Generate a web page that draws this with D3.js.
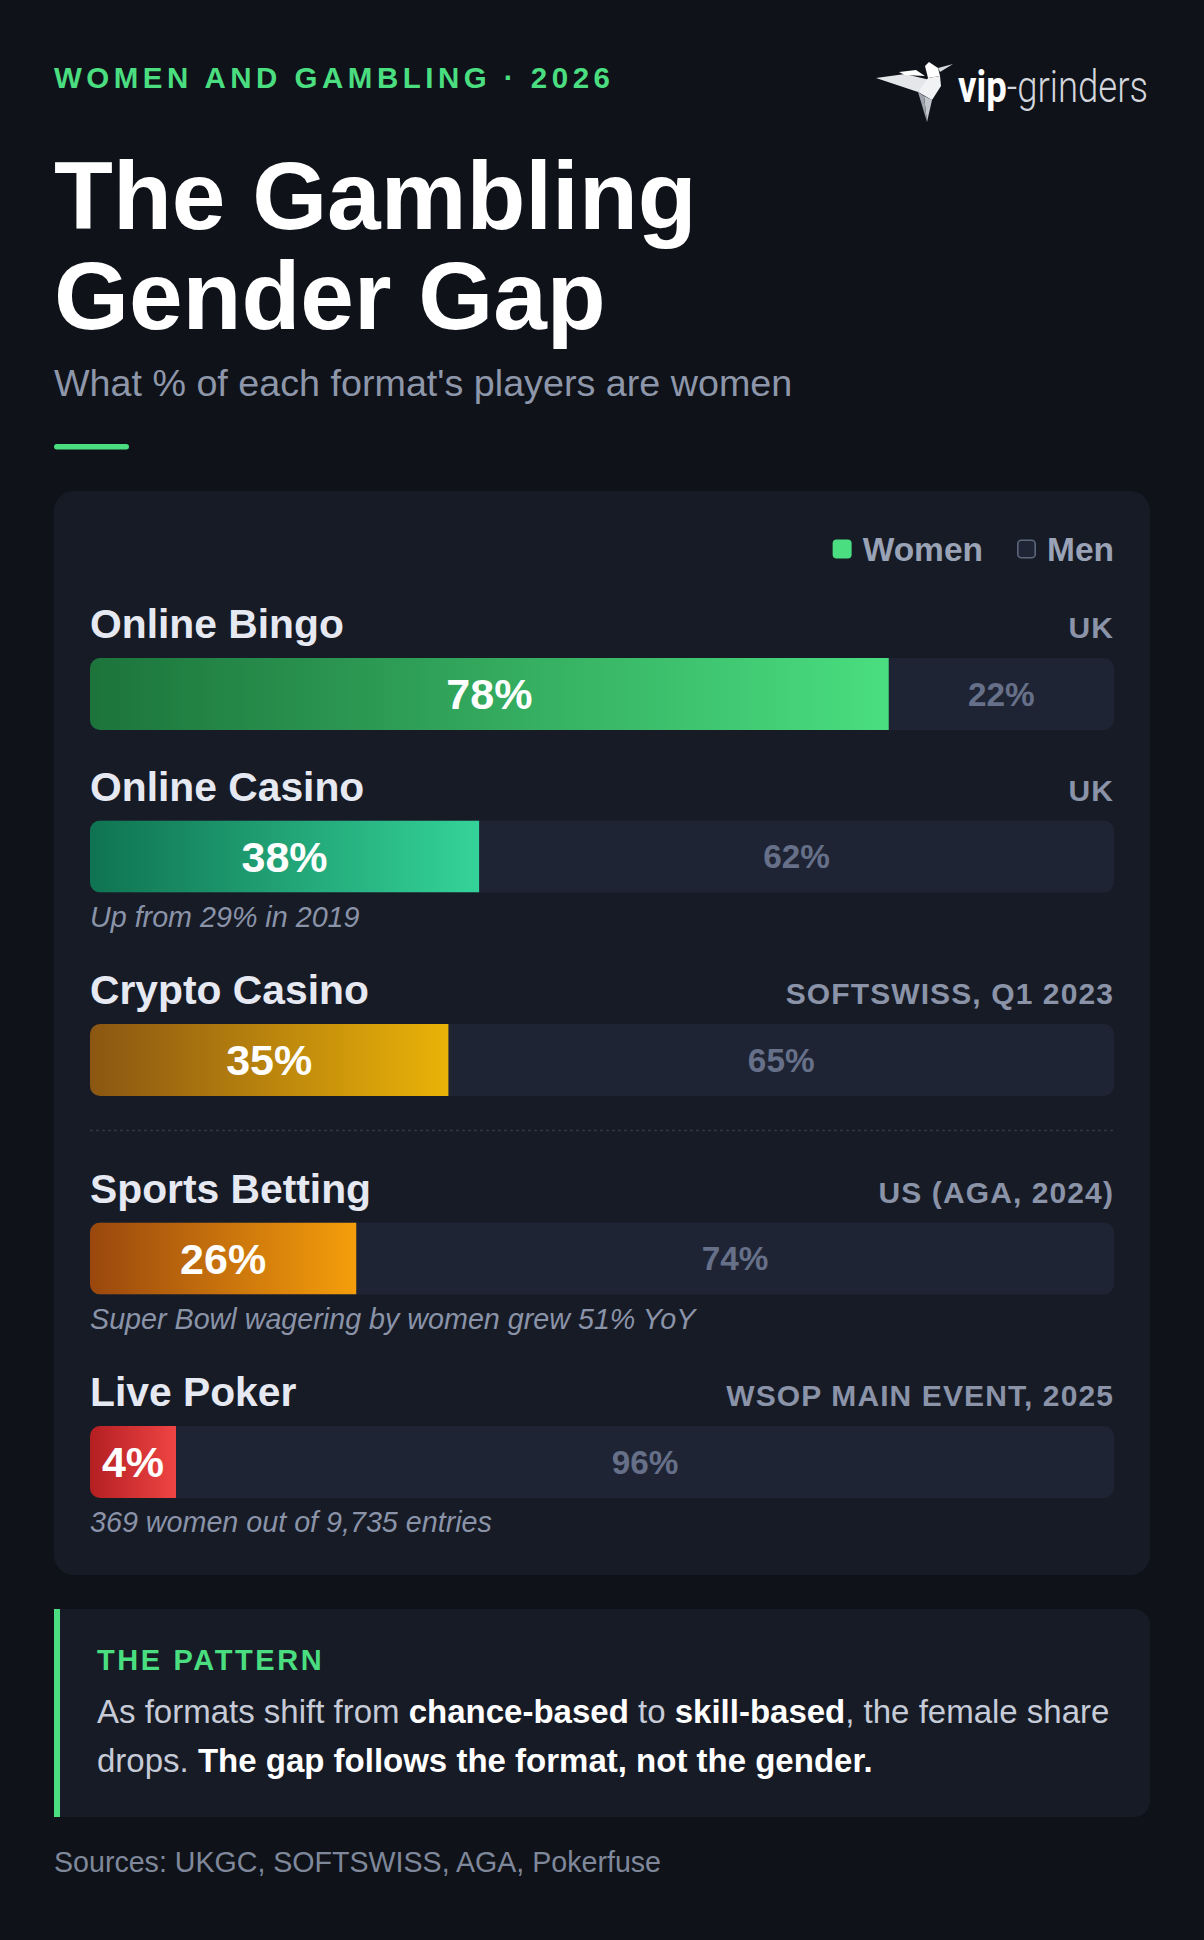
<!DOCTYPE html>
<html><head><meta charset="utf-8">
<script src="https://cdn.jsdelivr.net/npm/d3@7"></script>
<style>html,body{margin:0;padding:0;background:#0f1219;} svg{display:block}</style>
</head><body><div id="chart"></div>
<script>
// ---------- data ----------
const categories = ["Online Bingo", "Online Casino", "Crypto Casino", "Sports Betting", "Live Poker"];
const womenPct = [78, 38, 35, 26, 4];
const menPct = [22, 62, 65, 74, 96];
const sourceTags = ["UK", "UK", "SOFTSWISS, Q1 2023", "US (AGA, 2024)", "WSOP MAIN EVENT, 2025"];
const notes = ["", "Up from 29% in 2019", "", "Super Bowl wagering by women grew 51% YoY", "369 women out of 9,735 entries"];
const legendLabels = ["Women", "Men"];
const dividerAfter = "Crypto Casino";
const eyebrow = "WOMEN AND GAMBLING · 2026";
const titleLines = ["The Gambling", "Gender Gap"];
const subtitle = "What % of each format's players are women";
const patternHead = "THE PATTERN";
const patternLine1 = [["As formats shift from ", false], ["chance-based", true], [" to ", false], ["skill-based", true], [", the female share", false]];
const patternLine2 = [["drops. ", false], ["The gap follows the format, not the gender.", true]];
const sourcesText = "Sources: UKGC, SOFTSWISS, AGA, Pokerfuse";

// ---------- styles ----------
const palette = [["#1c743b", "#4ade80"], ["#0f7352", "#34d399"], ["#8a5612", "#eab308"], ["#9a470e", "#f59e0b"], ["#b41f22", "#ef4444"]];
const FONT = '"Liberation Sans", Arial, Helvetica, sans-serif';
const W = 1204, H = 1940;
const C = { bg: "#0f1219", card: "#171b26", track: "#1f2434", green: "#4ade80", label: "#e6e9f2", muted: "#8a93a8", men: "#667089" };

const svg = d3.select("#chart").append("svg").attr("width", W).attr("height", H)
  .style("font-family", FONT);
svg.append("rect").attr("width", W).attr("height", H).attr("fill", C.bg);
const defs = svg.append("defs");

// ---------- header ----------
svg.append("text").attr("x", 54).attr("y", 88).text(eyebrow)
  .attr("fill", C.green).attr("font-size", 29.5).attr("font-weight", 700).attr("letter-spacing", 4.5);

const title = svg.append("text").attr("fill", "#ffffff").attr("font-size", 96.4).attr("font-weight", 700);
title.selectAll("tspan").data(titleLines).join("tspan")
  .attr("x", 54).attr("y", (d, i) => 229 + i * 100).text(d => d);

svg.append("text").attr("x", 54).attr("y", 396).text(subtitle)
  .attr("fill", "#8e97aa").attr("font-size", 37.7);

svg.append("rect").attr("x", 54).attr("y", 444).attr("width", 75).attr("height", 5.5).attr("rx", 2.75).attr("fill", C.green);

// ---------- logo ----------
const logo = svg.append("g").attr("transform", "translate(876,62)");
const birdPolys = [
  [[[0,16],[29,12],[54,18],[42,30],[24,24]], "#e4e6ea"],
  [[[23,10],[40,8],[49,14],[29,13]], "#ffffff"],
  [[[49,4],[53,0],[62,6],[64,14],[52,16]], "#ffffff"],
  [[[62,6],[77,2],[64,10]], "#d6d8dd"],
  [[[52,16],[64,14],[65,24],[56,38],[42,30]], "#f1f2f4"],
  [[[48,34],[56,38],[51,60]], "#c2c5cc"],
  [[[42,30],[48,34],[51,60]], "#9ea2ab"]
];
logo.selectAll("polygon").data(birdPolys).join("polygon")
  .attr("points", d => d[0].map(p => p.join(",")).join(" ")).attr("fill", d => d[1]);
const logoG = svg.append("g").attr("transform", "translate(958,102) scale(1,1.22)");
const logoText = logoG.append("text").attr("x", 0).attr("y", 0)
  .style("font-family", 'Roboto, "Open Sans", sans-serif').attr("font-size", 34);
logoText.append("tspan").text("vip").attr("font-weight", 700).attr("fill", "#ffffff");
logoText.append("tspan").text("-grinders").attr("font-weight", 300).attr("fill", "#d3d6dc");
{
  const bw = logoText.node().getComputedTextLength();
  logoText.attr("font-size", 34 * 190 / bw);
}

// ---------- card ----------
const card = { x: 54, y: 491, w: 1096, h: 1084 };
svg.append("rect").attr("x", card.x).attr("y", card.y).attr("width", card.w).attr("height", card.h)
  .attr("rx", 20).attr("fill", C.card);

const x = d3.scaleLinear().domain([0, 100]).range([90, 1114]);

// legend (right aligned, built right-to-left)
const lg = svg.append("g");
{
  let right = x(100);
  const items = legendLabels.map((l, i) => ({ l, i })).reverse();
  items.forEach(it => {
    const t = lg.append("text").attr("y", 561).text(it.l)
      .attr("fill", "#9aa3b6").attr("font-size", 33.5).attr("font-weight", 700).attr("text-anchor", "end").attr("x", right);
    const tw = t.node().getComputedTextLength();
    const sq = lg.append("rect").attr("x", right - tw - 11 - 19).attr("y", 539.5).attr("width", 19).attr("height", 19).attr("rx", 4);
    if (it.i === 0) sq.attr("fill", C.green);
    else sq.attr("fill", "#1f2535").attr("stroke", "#5c667b").attr("stroke-width", 1.6).attr("x", right - tw - 11 - 18.2).attr("y", 540.3).attr("width", 17.4).attr("height", 17.4).attr("rx", 3.5);
    right = right - tw - 11 - 19 - 34;
  });
}

// rows layout
const barH = 72, step = 162.5, noteExtra = 41, dividerExtra = 36;
const rows = [];
{
  let top = 658;
  categories.forEach((c, i) => {
    rows.push({ c, i, top, w: womenPct[i], m: menPct[i], tag: sourceTags[i], note: notes[i] });
    top += step + (notes[i] ? noteExtra : 0) + (c === dividerAfter ? dividerExtra : 0);
  });
}

const minSeg = 86;
rows.forEach(r => {
  const g = svg.append("g");
  const gid = "grad" + r.i;
  const lgd = defs.append("linearGradient").attr("id", gid).attr("x1", 0).attr("x2", 1).attr("y1", 0).attr("y2", 0);
  lgd.append("stop").attr("offset", "0%").attr("stop-color", palette[r.i][0]);
  lgd.append("stop").attr("offset", "100%").attr("stop-color", palette[r.i][1]);
  const cid = "clip" + r.i;
  defs.append("clipPath").attr("id", cid).append("rect")
    .attr("x", x(0)).attr("y", r.top).attr("width", x(100) - x(0)).attr("height", barH).attr("rx", 10);

  g.append("text").attr("x", x(0)).attr("y", r.top - 20).text(r.c)
    .attr("fill", C.label).attr("font-size", 40.8).attr("font-weight", 700);
  g.append("text").attr("x", x(100)).attr("y", r.top - 20).text(r.tag)
    .attr("fill", C.muted).attr("font-size", 30).attr("font-weight", 700)
    .attr("letter-spacing", 1.1).attr("text-anchor", "end");

  g.append("rect").attr("x", x(0)).attr("y", r.top).attr("width", x(100) - x(0)).attr("height", barH)
    .attr("rx", 10).attr("fill", C.track);
  const segW = Math.max(x(r.w) - x(0), minSeg);
  const wEnd = x(0) + segW;
  g.append("rect").attr("x", x(0)).attr("y", r.top).attr("width", segW).attr("height", barH)
    .attr("fill", `url(#${gid})`).attr("clip-path", `url(#${cid})`);
  const cy = r.top + barH / 2;
  g.append("text").attr("x", x(0) + segW / 2).attr("y", cy + 43 * 0.358).text(r.w + "%")
    .attr("fill", "#ffffff").attr("font-size", 43).attr("font-weight", 700).attr("text-anchor", "middle");
  g.append("text").attr("x", (wEnd + x(100)) / 2).attr("y", cy + 33.3 * 0.358).text(r.m + "%")
    .attr("fill", C.men).attr("font-size", 33.3).attr("font-weight", 700).attr("text-anchor", "middle");
  if (r.note) {
    g.append("text").attr("x", x(0)).attr("y", r.top + barH + 34).text(r.note)
      .attr("fill", C.muted).attr("font-size", 28.7).attr("font-style", "italic");
  }
  if (r.c === dividerAfter) {
    g.append("line").attr("x1", x(0)).attr("x2", x(100)).attr("y1", r.top + barH + 34.5).attr("y2", r.top + barH + 34.5)
      .attr("stroke", "#2e3546").attr("stroke-width", 1.5).attr("stroke-dasharray", "3,3");
  }
});

// ---------- pattern box ----------
const pb = { x: 54, y: 1609, w: 1096, h: 208, r: 16 };
svg.append("path").attr("d",
  `M${pb.x},${pb.y} H${pb.x + pb.w - pb.r} A${pb.r},${pb.r} 0 0 1 ${pb.x + pb.w},${pb.y + pb.r} V${pb.y + pb.h - pb.r} A${pb.r},${pb.r} 0 0 1 ${pb.x + pb.w - pb.r},${pb.y + pb.h} H${pb.x} Z`)
  .attr("fill", C.card);
svg.append("rect").attr("x", pb.x).attr("y", pb.y).attr("width", 6).attr("height", pb.h).attr("fill", C.green);
svg.append("text").attr("x", 97).attr("y", 1670).text(patternHead)
  .attr("fill", C.green).attr("font-size", 29).attr("font-weight", 700).attr("letter-spacing", 2.6);
[patternLine1, patternLine2].forEach((line, li) => {
  const t = svg.append("text").attr("x", 97).attr("y", 1723 + li * 48.5).attr("font-size", 33).attr("xml:space", "preserve");
  t.selectAll("tspan").data(line).join("tspan").text(d => d[0])
    .attr("font-weight", d => d[1] ? 700 : 400).attr("fill", d => d[1] ? "#ffffff" : "#c6cbd7")
    .style("white-space", "pre");
});

svg.append("text").attr("x", 54).attr("y", 1872).text(sourcesText)
  .attr("fill", "#7f889b").attr("font-size", 28.6);
</script>
</body></html>
